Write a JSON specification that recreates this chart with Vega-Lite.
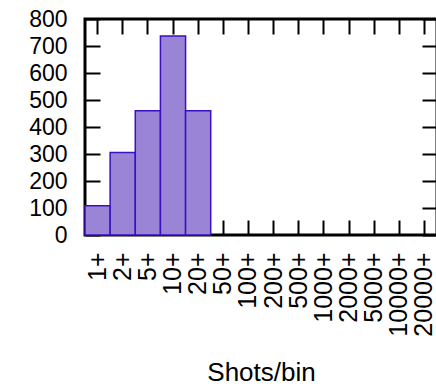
{
  "$schema": "https://vega.github.io/schema/vega-lite/v6.json",
  "autosize": "none",
  "width": 352,
  "height": 216,
  "padding": {"left": 85, "top": 19, "right": 0, "bottom": 151},
  "background": "white",
  "config": {
    "font": "Liberation Sans",
    "view": {"stroke": "black", "strokeWidth": 3},
    "axis": {"grid": false, "domain": false, "tickColor": "black", "tickWidth": 2, "labelColor": "black", "titleColor": "black", "labelFont": "Liberation Sans", "titleFont": "Liberation Sans", "labelOverlap": false, "titleFontSize": 26, "titleFontWeight": "normal"}
  },
  "data": {"values": [
    {"bin": "1+", "count": 108},
    {"bin": "2+", "count": 306},
    {"bin": "5+", "count": 460},
    {"bin": "10+", "count": 737},
    {"bin": "20+", "count": 460},
    {"bin": "50+", "count": 0},
    {"bin": "100+", "count": 0},
    {"bin": "200+", "count": 0},
    {"bin": "500+", "count": 0},
    {"bin": "1000+", "count": 0},
    {"bin": "2000+", "count": 0},
    {"bin": "5000+", "count": 0},
    {"bin": "10000+", "count": 0},
    {"bin": "20000+", "count": 0}
  ]},
  "layer": [
    {
      "mark": {"type": "bar", "fill": "#9a84d6", "strokeWidth": 1.5},
      "encoding": {
        "x": {"field": "bin", "type": "nominal", "sort": null,
              "scale": {"paddingInner": 0, "paddingOuter": 0},
              "axis": {"orient": "bottom", "title": "Shots/bin", "labelAngle": -90, "labelFontSize": 25, "tickSize": -15, "labelPadding": 32, "titleY": 145, "titleBaseline": "alphabetic"}},
        "y": {"field": "count", "type": "quantitative",
              "scale": {"domain": [0, 800], "nice": false},
              "axis": {"orient": "left", "title": null, "labelFontSize": 23, "values": [0,100,200,300,400,500,600,700,800], "tickSize": -15, "labelPadding": 33}},
        "stroke": {"condition": {"test": "datum.count > 0", "value": "#3a10c0"}, "value": "transparent"}
      }
    },
    {
      "mark": {"type": "bar", "opacity": 0},
      "encoding": {
        "x": {"field": "bin", "type": "nominal", "sort": null,
              "axis": {"orient": "top", "title": null, "labels": false, "tickSize": -15}},
        "y": {"field": "count", "type": "quantitative",
              "axis": {"orient": "right", "title": null, "labels": false, "values": [0,100,200,300,400,500,600,700,800], "tickSize": -15}}
      }
    }
  ],
  "resolve": {"axis": {"x": "independent", "y": "independent"}}
}
